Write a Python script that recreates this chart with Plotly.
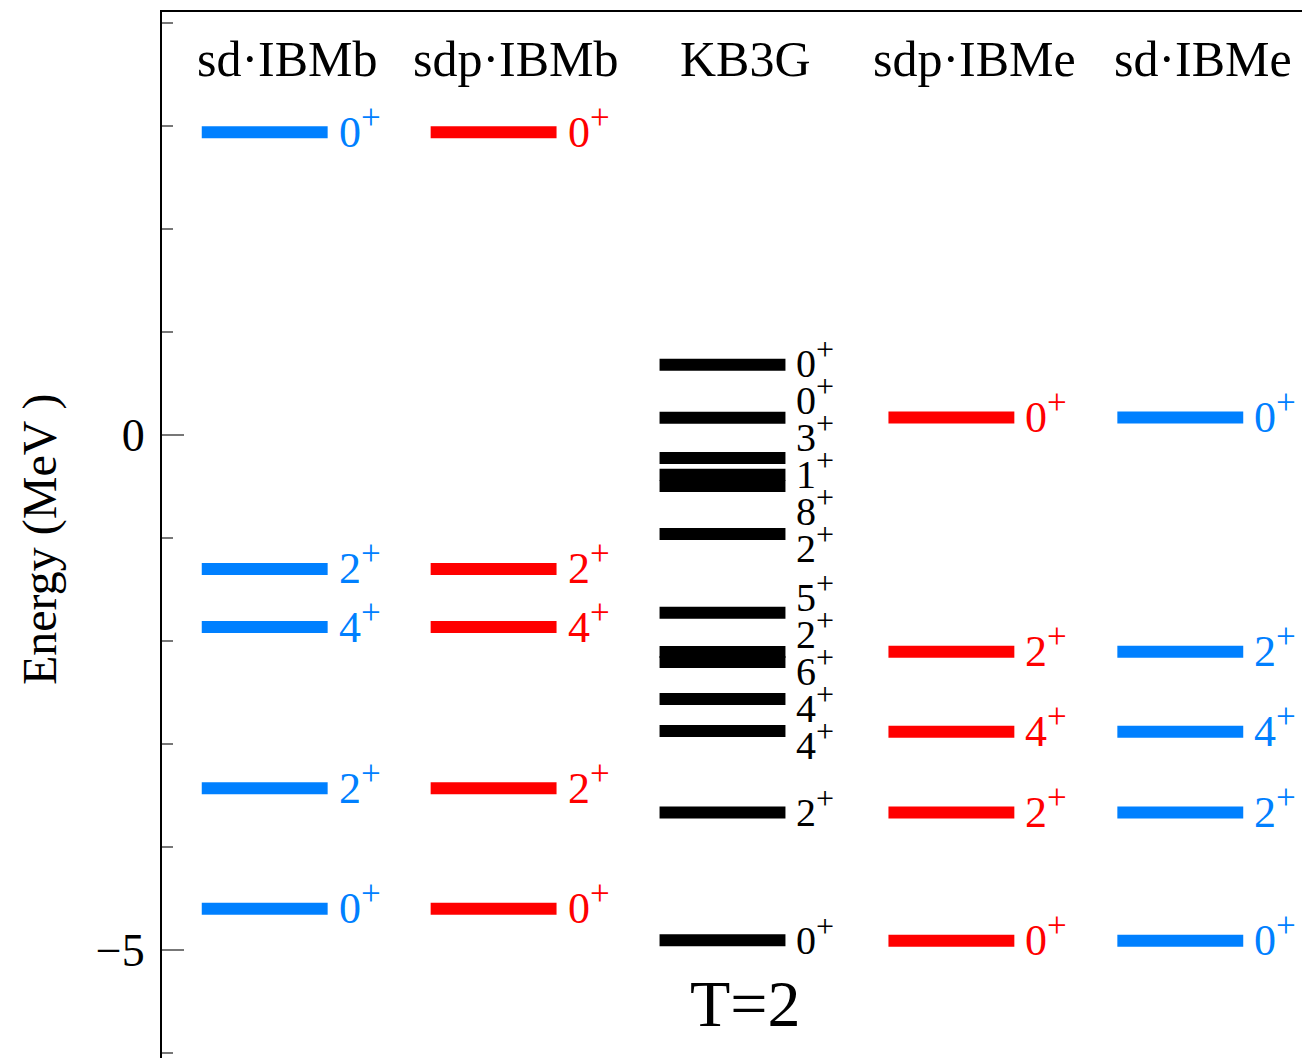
import plotly.graph_objects as go

# ---------------- data ----------------
columns = ["sd·IBMb", "sdp·IBMb", "KB3G", "sdp·IBMe", "sd·IBMe"]

sd_ibmb_E = [2.94, -1.30, -1.865, -3.43, -4.60]
sd_ibmb_J = ["0", "2", "4", "2", "0"]

sdp_ibmb_E = [2.94, -1.30, -1.865, -3.43, -4.60]
sdp_ibmb_J = ["0", "2", "4", "2", "0"]

kb3g_E = [0.683, 0.167, -0.223, -0.385, -0.495, -0.961, -1.726,
          -2.107, -2.204, -2.563, -2.874, -3.665, -4.905]
kb3g_J = ["0", "0", "3", "1", "8", "2", "5", "2", "6", "4", "4", "2", "0"]

sdp_ibme_E = [0.17, -2.105, -2.88, -3.665, -4.91]
sdp_ibme_J = ["0", "2", "4", "2", "0"]

sd_ibme_E = [0.17, -2.105, -2.88, -3.665, -4.91]
sd_ibme_J = ["0", "2", "4", "2", "0"]

isospin_label = "T=2"

BLUE = "rgb(0,128,255)"
RED = "rgb(255,0,0)"
BLACK = "black"
FONT = "Liberation Serif, Times New Roman, serif"

series = [
    (sd_ibmb_E, sd_ibmb_J, BLUE, 44),
    (sdp_ibmb_E, sdp_ibmb_J, RED, 44),
    (kb3g_E, kb3g_J, BLACK, 40),
    (sdp_ibme_E, sdp_ibme_J, RED, 44),
    (sd_ibme_E, sd_ibme_J, BLUE, 44),
]

HW = 0.275          # half bar width in column units
GAP = 0.36          # minimal label spacing (MeV) for crowded spectra


def spread(vals, gap):
    """Spread label positions so that they are at least `gap` apart."""
    order = sorted(range(len(vals)), key=lambda i: -vals[i])
    groups = [[i] for i in order]

    def pos(g):
        mean = sum(vals[i] for i in g) / len(g)
        top = mean + gap * (len(g) - 1) / 2
        return [top - k * gap for k in range(len(g))]

    changed = True
    while changed:
        changed = False
        for k in range(len(groups) - 1):
            a, b = pos(groups[k]), pos(groups[k + 1])
            if a[-1] - b[0] < gap - 1e-9:
                groups[k] = groups[k] + groups[k + 1]
                del groups[k + 1]
                changed = True
                break
    out = [0.0] * len(vals)
    for g in groups:
        for i, p in zip(g, pos(g)):
            out[i] = p
    return out


fig = go.Figure()
annotations = []

for c, (E, J, color, fs) in enumerate(series):
    xs, ys = [], []
    for e in E:
        xs += [c - HW, c + HW, None]
        ys += [e, e, None]
    fig.add_trace(go.Scatter(x=xs, y=ys, mode="lines",
                             line=dict(color=color, width=12),
                             hoverinfo="skip", showlegend=False))
    label_y = spread(E, GAP) if c == 2 else E
    sup = round(fs * 0.8)
    for ly, j in zip(label_y, J):
        annotations.append(dict(
            x=c + HW, y=ly, xref="x", yref="y", xshift=9, yshift=5,
            text=f"{j}<sup><span style='font-size:{sup}px'>+</span></sup>",
            showarrow=False, xanchor="left", yanchor="middle",
            font=dict(family=FONT, size=fs, color=color)))
    annotations.append(dict(
        x=c + 0.1, y=3.65, xref="x", yref="y",
        text=columns[c], showarrow=False, xanchor="center", yanchor="middle",
        font=dict(family=FONT, size=50, color="black")))

annotations.append(dict(
    x=2.1, y=-5.52, xref="x", yref="y", text=isospin_label, showarrow=False,
    xanchor="center", yanchor="middle",
    font=dict(family=FONT, size=66, color="black")))

annotations.append(dict(
    x=0, y=0.5, xref="paper", yref="paper", xshift=-122,
    text="Energy (MeV )", textangle=-90, showarrow=False,
    xanchor="center", yanchor="middle",
    font=dict(family=FONT, size=48, color="black")))

# invisible trace to activate right axis
fig.add_trace(go.Scatter(x=[None], y=[None], yaxis="y2", showlegend=False,
                         hoverinfo="skip"))

YR = [-6.126, 4.107]
fig.update_layout(
    width=1310, height=1058,
    margin=dict(l=154, r=0, t=4, b=0),
    plot_bgcolor="white", paper_bgcolor="white",
    annotations=annotations,
    xaxis=dict(range=[-0.4487, 4.6016], side="top", showline=True,
               linecolor="black", linewidth=2, showgrid=False,
               zeroline=False, showticklabels=False, ticks=""),
    yaxis=dict(range=YR, showline=True, linecolor="black", linewidth=2,
               showgrid=False, zeroline=False, dtick=5, tick0=0,
               ticks="inside", ticklen=22, tickwidth=1.5, tickcolor="#777",
               ticklabelstandoff=6,
               tickfont=dict(family=FONT, size=46, color="black"),
               minor=dict(dtick=1, tick0=0, ticks="inside", ticklen=11,
                          tickwidth=1.5, tickcolor="#777", showgrid=False)),
    yaxis2=dict(range=YR, overlaying="y", side="right", showline=False,
                showgrid=False, zeroline=False, dtick=5, tick0=0,
                ticks="inside", ticklen=12, tickwidth=1.5, tickcolor="#777",
                showticklabels=False),
)

fig.write_html("out.html")
